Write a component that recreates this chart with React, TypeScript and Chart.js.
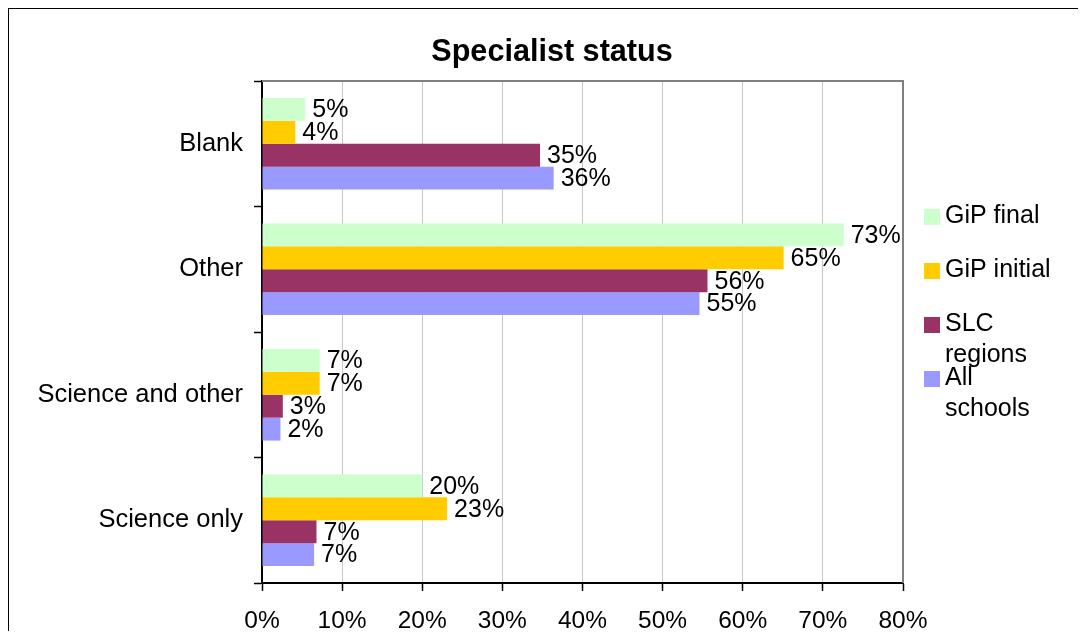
import React, { useEffect, useRef } from "react";
import { Chart, registerables } from "chart.js";

Chart.register(...registerables);

const categories = ["Blank", "Other", "Science and other", "Science only"];
const seriesNames = ["GiP final", "GiP initial", "SLC regions", "All schools"];
const seriesColors = ["#CCFFCC", "#FFCC00", "#993366", "#9999FF"];
const gipFinal = [5.4, 72.6, 7.2, 20.0];
const gipInitial = [4.15, 65.1, 7.2, 23.1];
const slcRegions = [34.7, 55.6, 2.6, 6.8];
const allSchools = [36.4, 54.6, 2.3, 6.5];
const seriesValues = [gipFinal, gipInitial, slcRegions, allSchools];
const titleText = "Specialist status";
const xTickValues = [0, 10, 20, 30, 40, 50, 60, 70, 80];

const FONT = "'Liberation Sans', Arial, sans-serif";

const customPlugin = {
  id: "custom",
  beforeDatasetsDraw(chart: any) {
    const { ctx, chartArea } = chart;
    ctx.save();
    ctx.strokeStyle = "#808080";
    ctx.lineWidth = 2;
    ctx.beginPath();
    ctx.moveTo(chartArea.left, chartArea.top);
    ctx.lineTo(chartArea.right, chartArea.top);
    ctx.lineTo(chartArea.right, chartArea.bottom);
    ctx.stroke();
    ctx.restore();
  },
  afterDatasetsDraw(chart: any) {
    const { ctx } = chart;
    ctx.save();
    ctx.font = `25px ${FONT}`;
    ctx.fillStyle = "#000";
    ctx.textBaseline = "middle";
    ctx.textAlign = "left";
    chart.data.datasets.forEach((ds: any, di: number) => {
      const meta = chart.getDatasetMeta(di);
      meta.data.forEach((el: any, i: number) => {
        const v = ds.data[i];
        ctx.fillText(`${Math.round(v)}%`, el.x + 7, el.y + 1);
      });
    });
    ctx.restore();
  },
  afterDraw(chart: any) {
    const { ctx } = chart;
    ctx.save();
    // title
    ctx.font = `bold 30.6px ${FONT}`;
    ctx.fillStyle = "#000";
    ctx.textAlign = "center";
    ctx.textBaseline = "alphabetic";
    ctx.fillText(titleText, 543, 52);
    // legend
    ctx.font = `25px ${FONT}`;
    ctx.textAlign = "left";
    const maxW = 112;
    chart.data.datasets.forEach((ds: any, i: number) => {
      const top = 200 + 54 * i;
      ctx.fillStyle = ds.backgroundColor;
      ctx.fillRect(915, top, 16, 16);
      ctx.fillStyle = "#000";
      const words = String(ds.label).split(" ");
      const lines: string[] = [];
      let cur = "";
      words.forEach((w) => {
        const test = cur ? cur + " " + w : w;
        if (cur && ctx.measureText(test).width > maxW) {
          lines.push(cur);
          cur = w;
        } else {
          cur = test;
        }
      });
      if (cur) lines.push(cur);
      lines.forEach((ln, li) => {
        ctx.fillText(ln, 936, top + 13.5 + li * 31);
      });
    });
    ctx.restore();
  },
};

export default function App() {
  const canvasRef = useRef<HTMLCanvasElement | null>(null);

  useEffect(() => {
    if (!canvasRef.current) return;
    Chart.defaults.font.family = FONT;
    const chart = new Chart(canvasRef.current, {
      type: "bar",
      data: {
        labels: categories,
        datasets: seriesNames.map((name, i) => ({
          label: name,
          data: seriesValues[i],
          backgroundColor: seriesColors[i],
          borderWidth: 0,
          barPercentage: 1,
          categoryPercentage: 0.73,
        })),
      },
      options: {
        indexAxis: "y",
        responsive: true,
        maintainAspectRatio: false,
        animation: false,
        layout: { padding: { left: 0, top: 72, right: 166, bottom: 0 } },
        plugins: {
          legend: { display: false },
          title: { display: false },
          tooltip: { enabled: false },
        },
        scales: {
          x: {
            type: "linear",
            min: 0,
            max: 80,
            afterBuildTicks: (scale: any) => {
              scale.ticks = xTickValues.map((v) => ({ value: v }));
            },
            afterFit: (scale: any) => {
              scale.height = 46;
            },
            ticks: {
              callback: (v: any) => `${v}%`,
              font: { size: 24.5, family: FONT },
              color: "#000",
              padding: 16,
              maxRotation: 0,
              autoSkip: false,
            },
            grid: {
              color: "#C8C8C8",
              lineWidth: 1,
              tickColor: "#000",
              tickLength: 8,
              tickWidth: 1.5,
            },
            border: { display: true, color: "#000", width: 2 },
          },
          y: {
            type: "category",
            afterFit: (scale: any) => {
              scale.width = 253;
            },
            ticks: {
              font: { size: 25.5, family: FONT },
              color: "#000",
              padding: 11,
              autoSkip: false,
            },
            grid: {
              drawOnChartArea: false,
              offset: true,
              tickColor: "#000",
              tickLength: 8,
              tickWidth: 1.5,
            },
            border: { display: true, color: "#000", width: 2 },
          },
        },
      },
      plugins: [customPlugin],
    } as any);
    return () => chart.destroy();
  }, []);

  return (
    <div style={{ width: 1070, height: 623, overflow: "hidden" }}>
      <div
        style={{
          border: "1px solid #000",
          width: 1200,
          height: 700,
          boxSizing: "border-box",
        }}
      >
        <div style={{ position: "relative", width: 1060, height: 620 }}>
          <canvas ref={canvasRef} />
        </div>
      </div>
    </div>
  );
}
